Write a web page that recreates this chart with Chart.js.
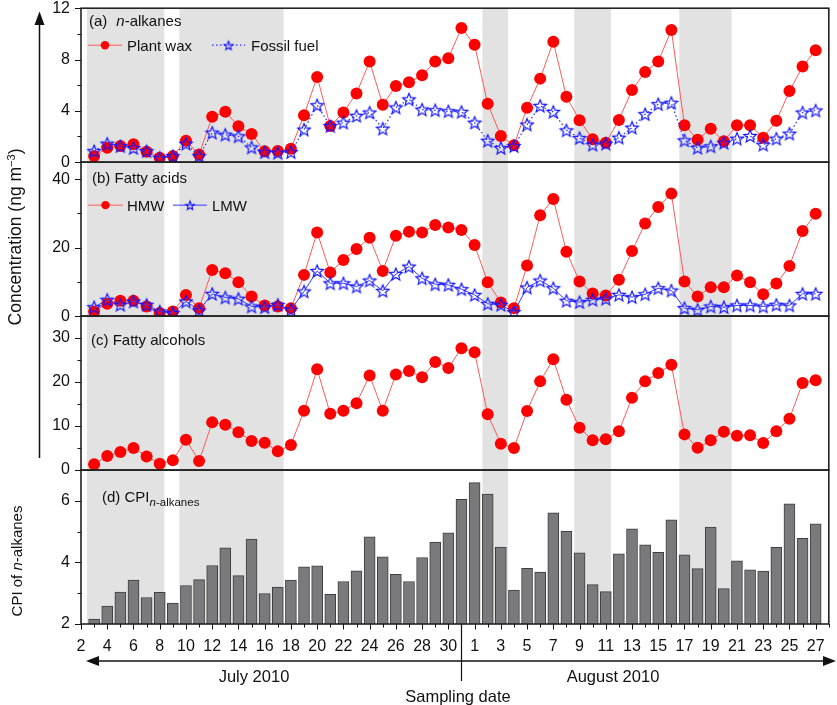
<!DOCTYPE html>
<html>
<head>
<meta charset="utf-8">
<script src="https://cdn.jsdelivr.net/npm/chart.js@4.4.1/dist/chart.umd.min.js"></script>
<style>
  html, body { margin: 0; padding: 0; background: #fff; }
  #wrap { position: relative; width: 837px; height: 705px; font-family: 'Liberation Sans', Arial, sans-serif; color: #111; }
  #wrap canvas { position: absolute; left: 0; top: 0; }
  .lbl { position: absolute; white-space: nowrap; font-size: 15px; line-height: 18px; }
  .ctr { position: absolute; white-space: nowrap; font-size: 16.5px; line-height: 20px; transform: translate(-50%, -50%); }
  .vt { position: absolute; white-space: nowrap; line-height: 20px; transform: translate(-50%, -50%) rotate(-90deg); }
</style>
</head>
<body>
<div id="wrap">
  <canvas id="chart" width="837" height="705"></canvas>

  <div class="lbl" style="left:89px; top:12px;">(a)<span style="margin-left:9px"><i>n</i>-alkanes</span></div>
  <div class="lbl" style="left:92px; top:169px;">(b) Fatty acids</div>
  <div class="lbl" style="left:91px; top:331px;">(c) Fatty alcohols</div>
  <div class="lbl" style="left:102px; top:488px;">(d) CPI<span style="font-size:11.5px; position:relative; top:4px"><i>n</i>-alkanes</span></div>

  <div class="vt" style="left:12.5px; top:237px; font-size:17.5px;">Concentration (ng m<sup style="font-size:11px">−3</sup>)</div>
  <div class="vt" style="left:17px; top:561px; font-size:15px;">CPI of <i>n</i>-alkanes</div>

  <div class="ctr" style="left:254px; top:676px;">July 2010</div>
  <div class="ctr" style="left:613px; top:676px;">August 2010</div>
  <div class="ctr" style="left:458px; top:696px;">Sampling date</div>
</div>

<script>
// sampling days (one sample per day)
const julyDays = [3, 4, 5, 6, 7, 8, 9, 10, 11, 12, 13, 14, 15, 16, 17, 18, 19, 20, 21, 22, 23, 24, 25, 26, 27, 28, 29, 30, 31];
const augustDays = [1, 2, 3, 4, 5, 6, 7, 8, 9, 10, 11, 12, 13, 14, 15, 16, 17, 18, 19, 20, 21, 22, 23, 24, 25, 26, 27];

// tick labels every second day, starting July 2
const xTickLabels = ['2', '4', '6', '8', '10', '12', '14', '16', '18', '20', '22', '24', '26', '28', '30',
  '1', '3', '5', '7', '9', '11', '13', '15', '17', '19', '21', '23', '25', '27'];

// shaded periods, in days after July 2
const shadedSpans = [[0.45, 6.35], [7.5, 15.45], [30.6, 32.55], [37.6, 40.4], [45.6, 49.6]];

// (a) n-alkanes, ng m-3
const plantWax = [0.47, 1.12, 1.25, 1.39, 0.81, 0.34, 0.47, 1.67, 0.6, 3.53, 3.92, 2.8, 2.2, 0.84, 0.86,
  1.04, 3.66, 6.64, 2.82, 3.87, 5.36, 7.84, 4.47, 5.93, 6.22, 6.77, 7.84, 8.1, 10.46,
  9.15, 4.55, 2.04, 1.31, 4.24, 6.51, 9.39, 5.1, 3.27, 1.78, 1.51, 3.29, 5.62, 7.03, 7.84,
  10.3, 2.88, 1.75, 2.61, 1.62, 2.88, 2.88, 1.91, 3.22, 5.54, 7.45, 8.73];
const fossilFuel = [0.86, 1.44, 1.25, 1.1, 0.86, 0.34, 0.47, 1.44, 0.47, 2.3, 2.14, 2.01, 1.15, 0.78, 0.73,
  0.78, 2.54, 4.44, 2.82, 3.08, 3.61, 3.87, 2.61, 4.26, 4.89, 4.1, 4.05, 3.97, 3.92,
  3.08, 1.67, 1.1, 1.25, 2.93, 4.39, 3.92, 2.48, 1.88, 1.36, 1.44, 1.91, 2.69, 3.74, 4.52,
  4.63, 1.7, 1.12, 1.23, 1.51, 1.83, 2.04, 1.36, 1.83, 2.22, 3.87, 4.03];

// (b) fatty acids
const hmw = [1.37, 3.6, 4.47, 4.47, 2.82, 0.87, 1.37, 6.2, 2.33, 13.5, 12.5, 9.9, 5.73, 3.1, 2.82,
  2.33, 12.05, 24.46, 12.72, 16.4, 19.6, 22.9, 13.2, 23.5, 24.66, 24.46, 26.6, 25.9, 25.15,
  20.8, 9.9, 4.0, 2.33, 14.76, 29.5, 34.2, 18.84, 10.1, 6.6, 6.0, 10.6, 19.0, 27.1, 31.9,
  35.8, 10.1, 5.73, 8.45, 8.45, 11.85, 9.9, 6.4, 9.5, 14.66, 24.85, 29.9];
const lmw = [2.62, 4.77, 3.3, 4.28, 3.3, 1.37, 0.87, 4.28, 1.66, 6.5, 5.44, 5.06, 2.82, 2.62, 3.3,
  1.86, 7.2, 13.2, 9.6, 9.6, 8.65, 10.4, 7.39, 12.3, 14.47, 11.06, 9.3, 9.13, 7.87,
  6.2, 3.6, 3.3, 1.17, 8.35, 10.4, 8.15, 4.47, 4.09, 4.77, 5.06, 6.22, 5.54, 6.4, 8.15,
  7.47, 2.34, 1.85, 2.82, 2.63, 3.12, 3.12, 2.82, 3.3, 3.12, 6.51, 6.51];

// (c) fatty alcohols
const fattyAlcohols = [1.3, 3.2, 4.1, 5.0, 3.1, 1.45, 2.2, 6.9, 2.05, 10.84, 10.3, 8.57, 6.6, 6.2, 4.25,
  5.7, 13.5, 22.9, 12.8, 13.5, 15.2, 21.5, 13.5, 21.7, 22.5, 21.1, 24.55, 23.2, 27.7,
  26.8, 12.66, 6.0, 5.0, 13.4, 20.16, 25.2, 16.0, 9.6, 6.75, 6.98, 8.8, 16.45, 20.16, 22.05,
  23.95, 8.11, 5.08, 6.75, 8.72, 7.8, 7.9, 6.14, 8.8, 11.67, 19.8, 20.4];

// (d) CPI of n-alkanes
const cpi = [2.16, 2.58, 3.04, 3.43, 2.86, 3.03, 2.68, 3.25, 3.44, 3.9, 4.47, 3.57, 4.76, 2.99, 3.2,
  3.43, 3.86, 3.89, 2.96, 3.38, 3.73, 4.83, 4.18, 3.61, 3.38, 4.16, 4.66, 4.96, 6.05,
  6.59, 6.22, 4.5, 3.1, 3.81, 3.69, 5.61, 5.01, 4.31, 3.28, 3.05, 4.28, 5.09, 4.57, 4.33,
  5.38, 4.25, 3.8, 5.15, 3.15, 4.05, 3.76, 3.72, 4.49, 5.9, 4.78, 5.25];

// position on the axis = days after July 2
const sampleIndex = [...julyDays.map(d => d - 2), ...augustDays.map(d => d + 29)];
const pts = vals => vals.map((v, i) => ({ x: sampleIndex[i], y: v }));

function makeStar(r, lw) {
  const size = Math.ceil(2 * r + lw * 2 + 2);
  const c = document.createElement('canvas');
  c.width = size; c.height = size;
  const g = c.getContext('2d');
  g.strokeStyle = '#1414ff';
  g.lineWidth = lw;
  g.beginPath();
  for (let i = 0; i < 10; i++) {
    const rr = i % 2 ? r * 0.45 : r;
    const ang = -Math.PI / 2 + i * Math.PI / 5;
    g.lineTo(size / 2 + rr * Math.cos(ang), size / 2 + 0.6 + rr * Math.sin(ang));
  }
  g.closePath();
  g.stroke();
  return c;
}
const starBig = makeStar(6.6, 1.2);
const starSmall = makeStar(4.6, 1.1);

Chart.defaults.font.family = "'Liberation Sans', Arial, sans-serif";
Chart.defaults.font.size = 16;
Chart.defaults.color = '#111';

const panelIds = ['ya', 'yb', 'yc', 'yd'];

const decor = {
  id: 'decor',
  beforeDatasetsDraw(chart) {
    const { ctx, chartArea: a, scales: { x } } = chart;
    ctx.save();
    ctx.fillStyle = '#e2e2e2';
    shadedSpans.forEach(([s, e]) => {
      const x0 = x.getPixelForValue(s);
      const x1 = x.getPixelForValue(e);
      ctx.fillRect(x0, a.top, x1 - x0, a.bottom - a.top);
    });
    ctx.restore();
  },
  afterDatasetsDraw(chart, args, opts) {
    const { ctx, chartArea: a, scales } = chart;
    const x = scales.x;
    ctx.save();

    // panel frames
    ctx.strokeStyle = '#222';
    ctx.lineWidth = 1.6;
    panelIds.forEach(id => {
      const s = scales[id];
      ctx.strokeRect(a.left, s.top, a.right - a.left, s.bottom - s.top);
    });

    // tick marks, major and minor
    ctx.strokeStyle = '#111';
    ctx.lineWidth = 1;
    panelIds.forEach(id => {
      const s = scales[id];
      s.ticks.forEach(t => {
        const y = Math.round(s.getPixelForValue(t.value)) + 0.5;
        const len = t.label !== '' ? 6 : 3.5;
        ctx.beginPath();
        ctx.moveTo(a.left, y);
        ctx.lineTo(a.left - len, y);
        ctx.stroke();
      });
    });
    x.ticks.forEach(t => {
      const px = Math.round(x.getPixelForValue(t.value)) + 0.5;
      const len = t.label !== '' ? 5.5 : 3.5;
      ctx.beginPath();
      ctx.moveTo(px, a.bottom);
      ctx.lineTo(px, a.bottom + len);
      ctx.stroke();
    });

    // legends inside panels
    ctx.font = "15px 'Liberation Sans', Arial, sans-serif";
    ctx.fillStyle = '#111';
    opts.legends.forEach(lg => {
      const y = scales[lg.scale].top + lg.dy;
      lg.items.forEach(it => {
        const ds = chart.data.datasets[it.ds];
        ctx.save();
        ctx.strokeStyle = ds.borderColor;
        ctx.lineWidth = ds.borderWidth;
        ctx.setLineDash(ds.borderDash || []);
        ctx.beginPath();
        ctx.moveTo(a.left + it.x0, y);
        ctx.lineTo(a.left + it.x1, y);
        ctx.stroke();
        ctx.restore();
        const mx = a.left + (it.x0 + it.x1) / 2;
        if (ds.pointStyle === 'circle') {
          ctx.beginPath();
          ctx.fillStyle = ds.pointBackgroundColor;
          ctx.arc(mx, y, 4.2, 0, Math.PI * 2);
          ctx.fill();
        } else {
          ctx.drawImage(starSmall, mx - starSmall.width / 2, y - starSmall.height / 2);
        }
        ctx.fillStyle = '#111';
        ctx.textBaseline = 'alphabetic';
        ctx.fillText(ds.label, a.left + it.tx, y + 5.4);
      });
    });
    ctx.restore();
  },
  afterDraw(chart) {
    const { ctx, chartArea: a, scales: { x } } = chart;
    ctx.save();
    ctx.strokeStyle = '#111';
    ctx.fillStyle = '#111';
    ctx.lineWidth = 1.5;

    // concentration arrow on the left
    const ax = 39.5;
    ctx.beginPath();
    ctx.moveTo(ax, 458);
    ctx.lineTo(ax, 22);
    ctx.stroke();
    ctx.beginPath();
    ctx.moveTo(ax, 11.5);
    ctx.lineTo(ax - 5, 25);
    ctx.lineTo(ax + 5, 25);
    ctx.closePath();
    ctx.fill();

    // month arrows under the axis
    const ay = 661;
    ctx.beginPath();
    ctx.moveTo(96, ay);
    ctx.lineTo(826, ay);
    ctx.stroke();
    ctx.beginPath();
    ctx.moveTo(86, ay);
    ctx.lineTo(99, ay - 5);
    ctx.lineTo(99, ay + 5);
    ctx.closePath();
    ctx.fill();
    ctx.beginPath();
    ctx.moveTo(836, ay);
    ctx.lineTo(823, ay - 5);
    ctx.lineTo(823, ay + 5);
    ctx.closePath();
    ctx.fill();

    // divider between July and August
    const dx = Math.round(x.getPixelForValue(29)) + 0.5;
    ctx.lineWidth = 1.2;
    ctx.beginPath();
    ctx.moveTo(dx, a.bottom);
    ctx.lineTo(dx, 681);
    ctx.stroke();
    ctx.restore();
  }
};

const yAxis = (weight, min, max, step, major) => ({
  type: 'linear',
  position: 'left',
  stack: 'panels',
  stackWeight: 1,
  weight: weight,
  min: min,
  max: max,
  grid: { display: false, drawTicks: false },
  border: { display: false },
  ticks: {
    stepSize: step,
    includeBounds: false,
    padding: 11,
    autoSkip: false,
    callback: v => (Math.abs(v % major) < 1e-9 ? String(v) : '')
  },
  afterFit: s => { s.width = 40; s.paddingTop = 0; s.paddingBottom = 0; }
});

new Chart(document.getElementById('chart'), {
  type: 'line',
  data: {
    datasets: [
      {
        label: 'Fossil fuel', yAxisID: 'ya', data: pts(fossilFuel), order: 0,
        borderColor: '#2a2aff', borderWidth: 1.2, borderDash: [1.5, 2.5],
        pointStyle: starBig, pointRadius: 7
      },
      {
        label: 'Plant wax', yAxisID: 'ya', data: pts(plantWax), order: 1,
        borderColor: '#ff5a5a', borderWidth: 1,
        pointStyle: 'circle', pointRadius: 6, pointBorderWidth: 0,
        pointBackgroundColor: '#ff0000', pointBorderColor: '#ff0000'
      },
      {
        label: 'LMW', yAxisID: 'yb', data: pts(lmw), order: 0,
        borderColor: '#3a3aff', borderWidth: 1,
        pointStyle: starBig, pointRadius: 7
      },
      {
        label: 'HMW', yAxisID: 'yb', data: pts(hmw), order: 1,
        borderColor: '#ff5a5a', borderWidth: 1,
        pointStyle: 'circle', pointRadius: 6, pointBorderWidth: 0,
        pointBackgroundColor: '#ff0000', pointBorderColor: '#ff0000'
      },
      {
        label: 'Fatty alcohols', yAxisID: 'yc', data: pts(fattyAlcohols), order: 1,
        borderColor: '#ff5a5a', borderWidth: 1,
        pointStyle: 'circle', pointRadius: 6, pointBorderWidth: 0,
        pointBackgroundColor: '#ff0000', pointBorderColor: '#ff0000'
      },
      {
        type: 'bar', label: 'CPI', yAxisID: 'yd', data: pts(cpi), order: 2,
        base: 2, barThickness: 11,
        backgroundColor: '#7a7a7c', borderColor: '#3e3e3e', borderWidth: 1
      }
    ]
  },
  options: {
    responsive: false,
    animation: false,
    layout: { padding: { left: 41, right: 3, top: 7, bottom: 0 } },
    plugins: {
      legend: { display: false },
      tooltip: { enabled: false },
      decor: {
        legends: [
          { scale: 'ya', dy: 37, items: [{ ds: 1, x0: 7, x1: 41, tx: 46 }, { ds: 0, x0: 131, x1: 164, tx: 170 }] },
          { scale: 'yb', dy: 43, items: [{ ds: 3, x0: 7, x1: 42, tx: 46 }, { ds: 2, x0: 92, x1: 126, tx: 131 }] }
        ]
      }
    },
    scales: {
      x: {
        type: 'linear',
        min: 0,
        max: 57,
        offset: false,
        grid: { display: false, drawTicks: false },
        border: { display: false },
        ticks: {
          stepSize: 1,
          maxTicksLimit: 100,
          autoSkip: false,
          maxRotation: 0,
          minRotation: 0,
          padding: 13,
          callback: v => (v % 2 === 0 && v / 2 < xTickLabels.length ? xTickLabels[v / 2] : '')
        },
        afterFit: s => { s.height = 81; s.paddingLeft = 0; s.paddingRight = 0; }
      },
      ya: yAxis(4, 0, 12, 2, 4),
      yb: yAxis(3, 0, 45, 10, 20),
      yc: yAxis(2, 0, 35, 5, 10),
      yd: yAxis(1, 2, 7, 1, 2)
    }
  },
  plugins: [decor]
});
</script>
</body>
</html>
